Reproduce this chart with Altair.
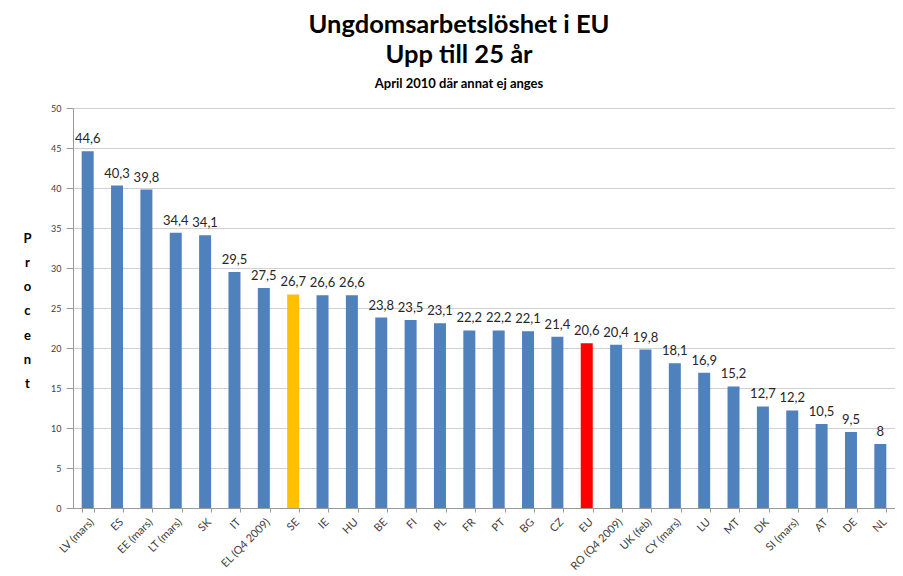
import altair as alt
import pandas as pd

categories = ["LV (mars)", "ES", "EE (mars)", "LT (mars)", "SK", "IT", "EL (Q4 2009)", "SE",
              "IE", "HU", "BE", "FI", "PL", "FR", "PT", "BG", "CZ", "EU", "RO (Q4 2009)",
              "UK (feb)", "CY (mars)", "LU", "MT", "DK", "SI (mars)", "AT", "DE", "NL"]
values = [44.6, 40.3, 39.8, 34.4, 34.1, 29.5, 27.5, 26.7, 26.6, 26.6, 23.8, 23.5, 23.1, 22.2,
          22.2, 22.1, 21.4, 20.6, 20.4, 19.8, 18.1, 16.9, 15.2, 12.7, 12.2, 10.5, 9.5, 8]
highlights = {"SE": "Sverige", "EU": "EU"}

df = pd.DataFrame({
    "land": categories,
    "procent": values,
    "etikett": [f"{v:g}".replace(".", ",") for v in values],
    "grupp": [highlights.get(c, "Övriga") for c in categories],
})

x = alt.X("land:N", sort=None, title=None,
          scale=alt.Scale(paddingInner=0.6, paddingOuter=0.3),
          axis=alt.Axis(labelAngle=-45, labelFontSize=11, labelColor="#404040",
                        labelFont="Lato", tickBand="extent", tickSize=4,
                        tickColor="#999999", domainColor="#999999", labelPadding=4))

y = alt.Y("procent:Q", title=["P", "r", "o", "c", "e", "n", "t"],
          scale=alt.Scale(domain=[0, 50], nice=False),
          axis=alt.Axis(values=list(range(0, 51, 5)), labelFontSize=9, labelOverlap=False,
                        labelColor="#404040", labelFont="Lato", tickSize=7,
                        tickColor="#999999", domainColor="#999999",
                        gridColor="#d0d0d0", labelPadding=5,
                        titleAngle=0, titleFontSize=13, titleFont="Lato",
                        titleFontWeight="bold", titleLineHeight=24.3, titleColor="#000000",
                        titleBaseline="middle", titleAlign="center",
                        titleX=-46, titleY=130))

base = alt.Chart(df).encode(x=x, y=y)

bars = base.mark_bar(size=12).encode(
    color=alt.Color("grupp:N", legend=None,
                    scale=alt.Scale(domain=["Övriga", "Sverige", "EU"],
                                    range=["#4F81BD", "#FFC000", "#FF0000"])),
)

text = base.mark_text(baseline="alphabetic", dy=-8, fontSize=13,
                      font="Lato", color="#262626").encode(text="etikett:N")

chart = (bars + text).properties(
    width=822, height=400,
    padding={"left": 14, "top": 4, "right": 0, "bottom": 0},
    title=alt.TitleParams(
        text=["Ungdomsarbetslöshet i EU", "Upp till 25 år"],
        subtitle="April 2010 där annat ej anges",
        font="Lato", fontSize=25.5, fontWeight="bold", lineHeight=30, color="#000000",
        subtitleFont="Lato", subtitleFontSize=13, subtitleFontWeight="bold",
        subtitleColor="#000000", subtitlePadding=10, anchor="middle", frame="bounds",
        offset=13),
).configure_view(stroke=None)

chart.save("out.html", embed_options={"renderer": "svg", "actions": False})
